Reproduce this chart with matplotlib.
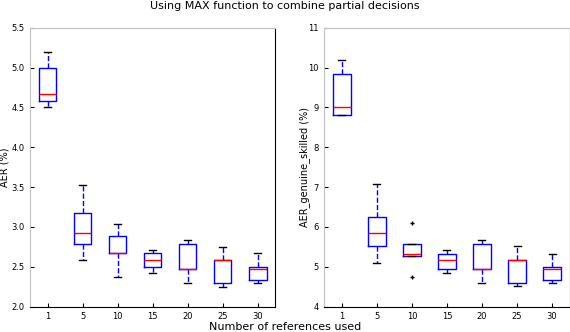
import matplotlib
matplotlib.use('Agg')
import matplotlib.pyplot as plt

# number of references used (tick labels)
refs = ['1', '5', '10', '15', '20', '25', '30']

# AER (%) box statistics
aer_whislo = [4.50, 2.58, 2.37, 2.42, 2.29, 2.25, 2.29]
aer_q1 = [4.58, 2.79, 2.67, 2.50, 2.47, 2.29, 2.33]
aer_med = [4.67, 2.92, 2.67, 2.58, 2.47, 2.58, 2.47]
aer_q3 = [5.00, 3.17, 2.88, 2.67, 2.79, 2.58, 2.50]
aer_whishi = [5.20, 3.53, 3.04, 2.71, 2.83, 2.75, 2.67]
aer_fliers = [[], [], [], [], [], [], []]

# AER genuine/skilled (%) box statistics
gs_whislo = [8.82, 5.08, 5.26, 4.83, 4.58, 4.51, 4.58]
gs_q1 = [8.82, 5.51, 5.26, 4.93, 4.93, 4.58, 4.67]
gs_med = [9.00, 5.84, 5.33, 5.18, 4.93, 5.18, 4.93]
gs_q3 = [9.83, 6.24, 5.58, 5.33, 5.58, 5.18, 4.99]
gs_whishi = [10.18, 7.07, 5.58, 5.41, 5.67, 5.51, 5.33]
gs_fliers = [[], [], [6.09, 4.75], [], [], [], []]


def make_stats(lo, q1, med, q3, hi, fl):
    return [dict(whislo=a, q1=b, med=c, q3=d, whishi=e, fliers=f, label=r)
            for a, b, c, d, e, f, r in zip(lo, q1, med, q3, hi, fl, refs)]


def style_axes(ax):
    ax.spines['left'].set_color('#c0c0c0')
    ax.spines['top'].set_color('#c0c0c0')
    ax.spines['bottom'].set_color('black')
    ax.spines['right'].set_color('black')
    ax.tick_params(direction='in', length=3, labelsize=6, pad=4)
    ax.set_xlim(0.5, 7.5)


def draw(ax, stats):
    ax.bxp(stats, widths=0.5, capwidths=0.2, showfliers=True,
           boxprops=dict(color='blue', linewidth=1.0),
           medianprops=dict(color='red', linewidth=1.0),
           whiskerprops=dict(color='blue', linestyle='--', linewidth=1.0),
           capprops=dict(color='black', linewidth=1.0),
           flierprops=dict(marker='+', markeredgecolor='black', markersize=3,
                           linestyle='none'))


fig = plt.figure(figsize=(5.7, 3.32), dpi=100)
ax1 = fig.add_axes([30 / 570, 25.5 / 332, 245.3 / 570, 278.8 / 332])
ax2 = fig.add_axes([324.3 / 570, 25.5 / 332, 245.3 / 570, 278.8 / 332])

draw(ax1, make_stats(aer_whislo, aer_q1, aer_med, aer_q3, aer_whishi, aer_fliers))
style_axes(ax1)
ax1.set_ylim(2.0, 5.5)
ax1.set_yticks([2.0, 2.5, 3.0, 3.5, 4.0, 4.5, 5.0, 5.5])
ax1.set_ylabel('AER (%)', fontsize=7)
ax1.yaxis.set_label_coords(-0.082, 0.5)

draw(ax2, make_stats(gs_whislo, gs_q1, gs_med, gs_q3, gs_whishi, gs_fliers))
style_axes(ax2)
ax2.set_ylim(4, 11)
ax2.set_yticks(range(4, 12))
ax2.set_ylabel('AER_genuine_skilled (%)', fontsize=7)
ax2.yaxis.set_label_coords(-0.058, 0.5)

fig.text(0.5, 0.997, 'Using MAX function to combine partial decisions',
         ha='center', va='top', fontsize=8)
fig.text(0.5, 0.0, 'Number of references used', ha='center', va='bottom',
         fontsize=8)

fig.savefig('out.png', dpi=100)
